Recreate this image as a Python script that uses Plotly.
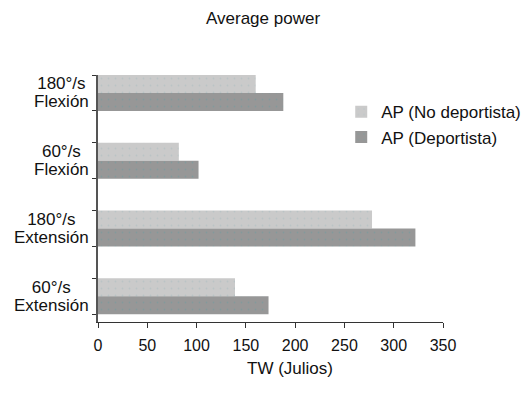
import plotly.graph_objects as go

speeds = ['60°/s', '180°/s', '60°/s', '180°/s']
moves = ['Extensión', 'Extensión', 'Flexión', 'Flexión']
no_deportista = [139, 278, 82, 160]
deportista = [173, 322, 102, 188]

pos = list(range(len(speeds)))
half = 0.265


def stipple(base, dots):
    # faint dotted print texture seen in the original bars
    return dict(shape='.', bgcolor=base, fgcolor=dots, size=7, solidity=0.05)


fig = go.Figure()
fig.add_trace(go.Bar(
    y=pos, x=no_deportista, orientation='h', name='AP (No deportista)',
    width=half, offset=0,
    marker=dict(color='#cacaca', line_width=0, pattern=stipple('#cacaca', '#a9bcbf')),
))
fig.add_trace(go.Bar(
    y=pos, x=deportista, orientation='h', name='AP (Deportista)',
    width=half, offset=-half,
    marker=dict(color='#979797', line_width=0, pattern=stipple('#979797', '#6f9ba0')),
))

# category labels: smaller base font keeps the line spacing close to the original
for p, s, m in zip(pos, speeds, moves):
    fig.add_annotation(x=0, xref='paper', y=p, yref='y',
                       text=f'<span style="font-size:17px">{s}<br>{m}</span>',
                       showarrow=False, xanchor='right', align='center', xshift=-7,
                       font=dict(size=14, color='#111'))

fig.add_annotation(text='TW (Julios)', x=0.556, xref='paper', y=-0.235, yref='paper',
                   showarrow=False, font=dict(size=17, color='#111'))
fig.add_annotation(text='Average power', x=0.477, xref='paper', y=1.227, yref='paper',
                   yanchor='middle', showarrow=False, font=dict(size=17, color='#111'))

# page body has an 8px margin, so margins are shifted to keep the plot in place
fig.update_layout(
    width=531, height=395,
    margin=dict(l=90, r=96, t=67, b=81),
    plot_bgcolor='white', paper_bgcolor='white',
    font=dict(family='Liberation Sans, Arial, sans-serif', size=16, color='#111'),
    barmode='overlay',
    showlegend=True,
    legend=dict(x=0.705, y=0.922, xanchor='left', yanchor='top', bgcolor='rgba(0,0,0,0)',
                font=dict(size=17)),
    xaxis=dict(range=[0, 350], tickvals=[0, 50, 100, 150, 200, 250, 300, 350],
               showline=True, linecolor='#333', linewidth=1, showgrid=False, zeroline=False,
               ticks='outside', ticklen=5, tickcolor='#333', ticklabelstandoff=4,
               tickfont=dict(size=16), automargin=False),
    yaxis=dict(range=[-0.38, 3.265], tickvals=pos, showticklabels=False, ticks='',
               showline=True, linecolor='#555', linewidth=2, showgrid=False, zeroline=False,
               automargin=False,
               minor=dict(tickmode='array',
                          tickvals=[p + d for p in pos for d in (-half, half)],
                          ticks='outside', ticklen=4, tickcolor='#333', showgrid=False)),
)

fig.write_html("out.html")
